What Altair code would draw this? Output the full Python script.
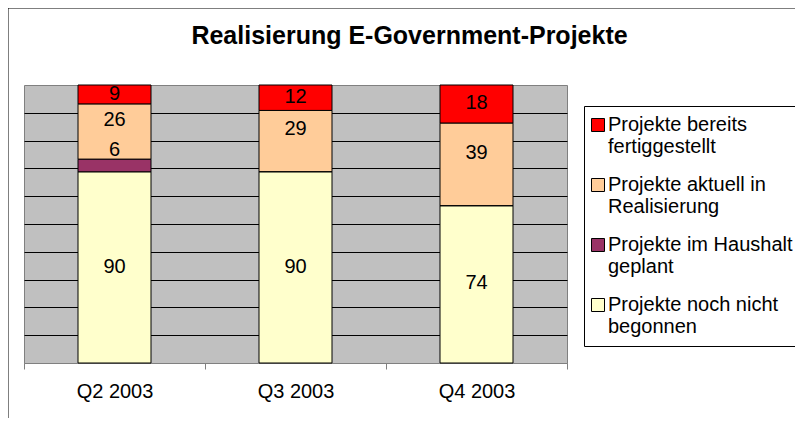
import altair as alt
import pandas as pd

quarters = ["Q2 2003", "Q3 2003", "Q4 2003"]
categories = [
    "Projekte bereits\nfertiggestellt",
    "Projekte aktuell in\nRealisierung",
    "Projekte im Haushalt\ngeplant",
    "Projekte noch nicht\nbegonnen",
]
colors = ["#FF0000", "#FFCC99", "#993366", "#FFFFCC"]
# values per category (same order as categories), per quarter
fertig = [9, 12, 18]
aktuell = [26, 29, 39]
haushalt = [6, 0, 0]
nicht_begonnen = [90, 90, 74]
grid_values = [0.1, 0.2, 0.3, 0.4, 0.5, 0.6, 0.7, 0.8, 0.9]
title_text = "Realisierung E-Government-Projekte"

series = [fertig, aktuell, haushalt, nicht_begonnen]
rows = []
for ci, (cat, vals) in enumerate(zip(categories, series)):
    for q, v in zip(quarters, vals):
        rows.append({"quarter": q, "cat": cat, "value": v, "stackorder": 3 - ci, "kind": ci})
df = pd.DataFrame(rows)

FONT = "Liberation Sans"

base = alt.Chart(df).transform_stack(
    stack="value", as_=["v0", "v1"], groupby=["quarter"],
    sort=[alt.SortField("stackorder", order="ascending")], offset="normalize"
).transform_calculate(mid="(datum.v0 + datum.v1) / 2")

xenc = alt.X(
    "quarter:N", sort=quarters,
    scale=alt.Scale(paddingInner=0, paddingOuter=0),
    axis=alt.Axis(title=None, labelAngle=0, tickBand="extent", labelFontSize=20,
                  labelFont=FONT, labelColor="black", domainColor="#808080",
                  tickColor="#808080", tickSize=6, labelPadding=12),
)

yaxis = alt.Axis(values=grid_values, grid=True, labels=False, ticks=False, domain=False,
                 title=None, gridColor="black", gridWidth=1, tickCount=10)

bars = base.mark_bar(size=73, stroke="black", strokeWidth=1).encode(
    x=xenc,
    y=alt.Y("v0:Q", scale=alt.Scale(domain=[0, 1]), axis=yaxis),
    y2="v1:Q",
    color=alt.Color("cat:N", scale=alt.Scale(domain=categories, range=colors),
                    legend=alt.Legend(
                        title=None, orient="none", legendX=560, legendY=21,
                        strokeColor="black", fillColor="white", padding=9,
                        symbolType="square", symbolSize=169, symbolStrokeColor="black",
                        symbolStrokeWidth=1, symbolOffset=-5, labelFontSize=20,
                        labelFont=FONT, labelColor="black", labelLimit=400,
                        labelOffset=0, rowPadding=18,
                        labelExpr="split(datum.label, '\\n')")),
)

def labels(filt, dy):
    return base.transform_filter(filt).mark_text(
        font=FONT, fontSize=20, color="black", dy=dy, baseline="middle"
    ).encode(x=alt.X("quarter:N", sort=quarters),
             y=alt.Y("mid:Q", axis=yaxis), text="value:Q")

lab_main = labels("datum.value > 0 && (datum.kind == 0 || datum.kind == 3)", -1)
lab_akt = labels("datum.value > 0 && datum.kind == 1", -12)
lab_hh = labels("datum.value > 0 && datum.kind == 2", -16)

frame = alt.Chart(pd.DataFrame({"a": [0]})).mark_rect(
    fillOpacity=0, stroke="black", strokeWidth=1
).encode(x=alt.value(-16), x2=alt.value(900), y=alt.value(-77), y2=alt.value(500))

chart = alt.layer(bars, lab_main, lab_akt, lab_hh, frame).properties(
    width=543, height=278,
    title=alt.TitleParams(title_text, font=FONT, fontSize=25, fontWeight="bold",
                          color="black", anchor="middle", dx=114, offset=-61,
                          baseline="alphabetic", frame="group"),
    autosize=alt.AutoSizeParams(type="none"),
    padding={"left": 16, "top": 77, "right": 228, "bottom": 55},
    background="white",
).configure_view(stroke="#808080", fill="#C0C0C0")

chart.save("out.html", embed_options={"renderer": "svg", "actions": False})
